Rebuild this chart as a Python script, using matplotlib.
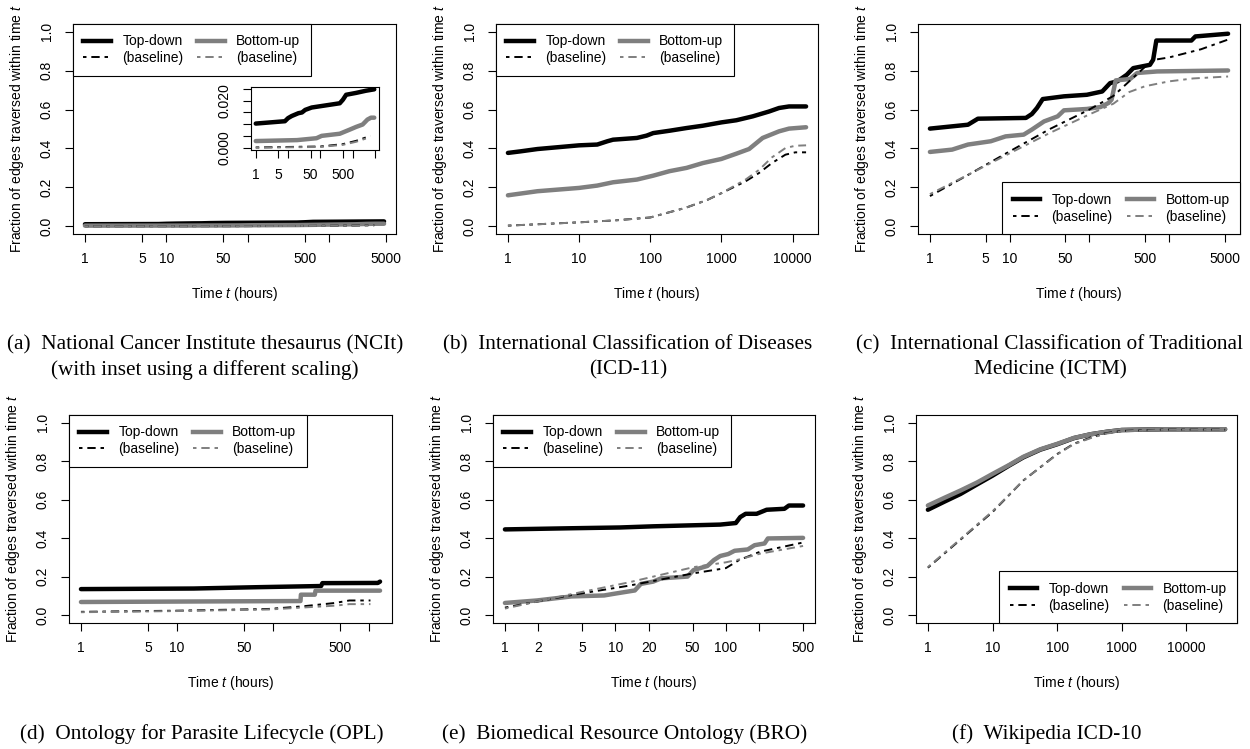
import numpy as np
import matplotlib
matplotlib.use("Agg")
import matplotlib.pyplot as plt
from matplotlib.lines import Line2D
from matplotlib.ticker import NullLocator
from matplotlib.transforms import Bbox, TransformedBbox

plt.rcParams['font.family'] = ['Liberation Sans', 'DejaVu Sans']
plt.rcParams['mathtext.fontset'] = 'custom'
plt.rcParams['mathtext.it'] = 'Liberation Sans:italic'
plt.rcParams['mathtext.rm'] = 'Liberation Sans'
plt.rcParams['lines.scale_dashes'] = False

# ---------------- data ----------------
# (a) NCIt
a_td_x = [1, 8, 10, 13, 21, 27, 34, 54, 400, 500, 630, 1290, 2570, 4677]
a_td_y = [0.0103, 0.0113, 0.0126, 0.0135, 0.0147, 0.0150, 0.0161, 0.0171, 0.0189, 0.0204, 0.0225, 0.0233, 0.0242, 0.0248]
a_bu_x = [1, 19, 76, 110, 400, 800, 1290, 2040, 2880, 3700, 4677]
a_bu_y = [0.0029, 0.0033, 0.0041, 0.0051, 0.0060, 0.0077, 0.0089, 0.0099, 0.0120, 0.0128, 0.0128]
a_tdb_x = [1, 100, 500, 1290, 3550]
a_tdb_y = [0.0002, 0.0006, 0.0016, 0.0030, 0.0051]
a_bub_x = [1, 100, 500, 1290, 3550]
a_bub_y = [0.0001, 0.0004, 0.0013, 0.0026, 0.0046]

# (b) ICD-11
b_td_x = [1, 1.5, 2.6, 10, 18, 25, 30, 65, 89, 110, 186, 324, 550, 1000, 1622, 2754, 4677, 6457, 8913, 15488]
b_td_y = [0.377, 0.385, 0.397, 0.416, 0.420, 0.437, 0.445, 0.454, 0.466, 0.479, 0.491, 0.505, 0.517, 0.534, 0.545, 0.565, 0.590, 0.608, 0.616, 0.616]
b_bu_x = [1, 2.6, 10, 18, 30, 65, 110, 186, 324, 550, 1000, 1622, 2450, 3800, 6457, 8913, 15488]
b_bu_y = [0.159, 0.180, 0.197, 0.209, 0.226, 0.240, 0.260, 0.283, 0.300, 0.325, 0.346, 0.373, 0.397, 0.454, 0.488, 0.502, 0.509]
b_tdb_x = [1, 10, 32, 100, 316, 631, 1000, 2188, 3388, 5129, 7943, 10965, 15488]
b_tdb_y = [0.003, 0.020, 0.030, 0.045, 0.095, 0.135, 0.170, 0.231, 0.274, 0.325, 0.368, 0.380, 0.380]
b_bub_x = [1, 10, 32, 100, 316, 631, 1000, 2188, 3388, 5129, 7943, 10965, 15488]
b_bub_y = [0.003, 0.020, 0.030, 0.045, 0.095, 0.135, 0.170, 0.240, 0.290, 0.354, 0.402, 0.414, 0.416]

# (c) ICTM
c_td_x = [1, 3, 4, 16, 19, 22, 26, 48, 93, 145, 182, 224, 295, 355, 575, 631, 692, 1905, 2138, 5495]
c_td_y = [0.502, 0.522, 0.553, 0.557, 0.577, 0.608, 0.654, 0.668, 0.676, 0.693, 0.736, 0.745, 0.779, 0.813, 0.830, 0.856, 0.955, 0.955, 0.976, 0.990]
c_bu_x = [1, 1.9, 3, 5.8, 8.9, 15, 19, 27, 40, 48, 93, 138, 174, 190, 214, 324, 398, 708, 5495]
c_bu_y = [0.382, 0.394, 0.420, 0.437, 0.462, 0.471, 0.497, 0.539, 0.565, 0.596, 0.603, 0.613, 0.634, 0.651, 0.750, 0.757, 0.788, 0.796, 0.801]
c_tdb_x = [1, 3.2, 10, 32, 100, 200, 316, 500, 631, 1000, 2512, 5495]
c_tdb_y = [0.155, 0.270, 0.385, 0.500, 0.600, 0.670, 0.745, 0.820, 0.855, 0.868, 0.910, 0.960]
c_bub_x = [1, 3.2, 10, 32, 100, 200, 316, 500, 1000, 2000, 5495]
c_bub_y = [0.165, 0.270, 0.375, 0.480, 0.575, 0.630, 0.690, 0.720, 0.745, 0.760, 0.770]

# (d) OPL
d_td_x = [1, 15, 70, 320, 330, 1250, 1318]
d_td_y = [0.136, 0.139, 0.146, 0.152, 0.167, 0.168, 0.175]
d_bu_x = [1, 20, 195, 197, 275, 280, 1318]
d_bu_y = [0.069, 0.072, 0.074, 0.107, 0.107, 0.128, 0.128]
d_tdb_x = [1, 10, 91, 200, 447, 631, 1047]
d_tdb_y = [0.018, 0.024, 0.033, 0.046, 0.064, 0.077, 0.077]
d_bub_x = [1, 10, 91, 200, 447, 631, 1047]
d_bub_y = [0.016, 0.022, 0.030, 0.040, 0.050, 0.058, 0.058]

# (e) BRO
e_td_x = [1, 4, 11, 22, 89, 123, 135, 151, 190, 234, 339, 372, 500]
e_td_y = [0.446, 0.452, 0.456, 0.462, 0.471, 0.479, 0.510, 0.527, 0.527, 0.548, 0.553, 0.570, 0.570]
e_bu_x = [1, 1.95, 4, 7.9, 9.8, 15, 17, 22, 26, 45, 51, 68, 78, 89, 105, 120, 158, 182, 224, 240, 500]
e_bu_y = [0.064, 0.077, 0.098, 0.103, 0.112, 0.129, 0.163, 0.175, 0.192, 0.201, 0.235, 0.256, 0.287, 0.308, 0.318, 0.335, 0.342, 0.364, 0.373, 0.399, 0.402]
e_tdb_x = [1, 4, 13, 51, 100, 132, 204, 500]
e_tdb_y = [0.040, 0.105, 0.153, 0.218, 0.245, 0.287, 0.330, 0.378]
e_bub_x = [1, 4, 13, 51, 100, 132, 204, 500]
e_bub_y = [0.035, 0.110, 0.170, 0.250, 0.275, 0.290, 0.320, 0.360]

# (f) Wikipedia ICD-10
f_td_x = [1, 1.8, 3.2, 5.8, 10, 18, 30, 55, 100, 182, 331, 590, 1000, 4467, 39811]
f_td_y = [0.548, 0.590, 0.630, 0.680, 0.725, 0.777, 0.820, 0.860, 0.888, 0.920, 0.940, 0.953, 0.962, 0.966, 0.966]
f_bu_x = [1, 1.8, 3.2, 5.8, 10, 18, 30, 55, 100, 182, 331, 590, 1000, 4467, 39811]
f_bu_y = [0.570, 0.610, 0.648, 0.690, 0.734, 0.780, 0.823, 0.862, 0.890, 0.921, 0.940, 0.953, 0.962, 0.966, 0.966]
f_tdb_x = [1, 10, 30, 100, 180, 331, 560, 1000, 4467, 39811]
f_tdb_y = [0.247, 0.536, 0.700, 0.837, 0.890, 0.923, 0.945, 0.957, 0.964, 0.964]
f_bub_x = [1, 10, 30, 100, 180, 331, 560, 1000, 4467, 39811]
f_bub_y = [0.250, 0.540, 0.700, 0.835, 0.888, 0.920, 0.943, 0.955, 0.963, 0.963]

# ticks
yticks_main = [0.0, 0.2, 0.4, 0.6, 0.8, 1.0]
ylabels_main = ["0.0", "0.2", "0.4", "0.6", "0.8", "1.0"]
xt_a = [1, 5, 10, 50, 100, 500, 1000, 5000]
xl_a = ["1", "5", "10", "50", "", "500", "", "5000"]
xt_b = [1, 10, 100, 1000, 10000]
xl_b = ["1", "10", "100", "1000", "10000"]
xt_d = [1, 5, 10, 50, 100, 500, 1000]
xl_d = ["1", "5", "10", "50", "", "500", ""]
xt_e = [1, 2, 5, 10, 20, 50, 100, 200, 500]
xl_e = ["1", "2", "5", "10", "20", "50", "100", "", "500"]
xt_in = [1, 5, 10, 50, 100, 500, 1000, 5000]
xl_in = ["1", "5", "", "50", "", "500", "", ""]
yt_in = [0.000, 0.005, 0.010, 0.015, 0.020, 0.025]
yl_in = ["0.000", "", "", "", "0.020", ""]

captions = {
    'a': ["(a)  National Cancer Institute thesaurus (NCIt)", "(with inset using a different scaling)"],
    'b': ["(b)  International Classification of Diseases", "(ICD-11)"],
    'c': ["(c)  International Classification of Traditional", "Medicine (ICTM)"],
    'd': ["(d)  Ontology for Parasite Lifecycle (OPL)"],
    'e': ["(e)  Biomedical Resource Ontology (BRO)"],
    'f': ["(f)  Wikipedia ICD-10"],
}

# ---------------- drawing ----------------
W, H = 1250, 749
fig = plt.figure(figsize=(W / 100, H / 100), dpi=100)
FS = 10
GRAY = '#7f7f7f'
DASH = (2.5, 3.5, 6, 3.5)
LW_THICK = 3.2
LW_THIN = 1.4


def px_rect(l, t, r, b):
    return [l / W, 1 - b / H, (r - l) / W, (b - t) / H]


def style_axis(ax, xt, xl, yt, yl):
    ax.set_xscale('log')
    ax.set_xticks(xt)
    ax.set_xticklabels(xl)
    ax.xaxis.set_minor_locator(NullLocator())
    ax.set_yticks(yt)
    ax.set_yticklabels(yl)
    ax.tick_params(axis='both', direction='out', length=6, width=0.8, labelsize=FS, colors='black')
    ax.tick_params(axis='x', pad=7)
    ax.tick_params(axis='y', pad=8, labelrotation=90)
    for lb in ax.get_yticklabels():
        lb.set_va('center')
    for sp in ax.spines.values():
        sp.set_linewidth(0.8)


def logxlim(ax, xs):
    lo = np.log10(min(min(x) for x in xs))
    hi = np.log10(max(max(x) for x in xs))
    pad = 0.04 * (hi - lo)
    ax.set_xlim(10 ** (lo - pad), 10 ** (hi + pad))


def draw_series(ax, td, bu, tdb, bub, lw=LW_THICK):
    ax.plot(td[0], td[1], color='black', lw=lw, solid_capstyle='round', solid_joinstyle='round')
    ax.plot(bu[0], bu[1], color=GRAY, lw=lw, solid_capstyle='round', solid_joinstyle='round')
    ax.plot(tdb[0], tdb[1], color='black', lw=LW_THIN, dashes=DASH)
    ax.plot(bub[0], bub[1], color=GRAY, lw=LW_THIN, dashes=DASH)


def add_legend(ax, loc):
    handles = [Line2D([], [], color='black', lw=LW_THICK),
               Line2D([], [], color='black', lw=LW_THIN, dashes=DASH),
               Line2D([], [], color=GRAY, lw=LW_THICK),
               Line2D([], [], color=GRAY, lw=LW_THIN, dashes=DASH)]
    labels = ['Top-down', '(baseline)', 'Bottom-up', '(baseline)']
    anchor = (0, 1) if loc == 'upper left' else (1, 0)
    leg = ax.legend(handles, labels, ncol=2, loc=loc, bbox_to_anchor=anchor,
                    borderaxespad=0, fancybox=False, framealpha=1, edgecolor='black',
                    fontsize=FS, handlelength=2.0, handletextpad=0.8, columnspacing=1.0,
                    borderpad=0.75, labelspacing=0.2)
    leg.get_frame().set_linewidth(0.8)


def add_labels(ax, rect_px, clip_top=None):
    l, t, r, b = rect_px
    ax.text(0.5, -(294 - 234) / (b - t), r"Time $\it{t}$ (hours)", transform=ax.transAxes,
            ha='center', va='center', fontsize=FS)
    yl = ax.text(-56 / (r - l), 0.5, r"Fraction of edges traversed within time $\it{t}$",
                 transform=ax.transAxes, ha='center', va='center', rotation=90, fontsize=FS)
    if clip_top is not None:
        bb = TransformedBbox(Bbox([[0, 0], [1, 1 - clip_top / H]]), fig.transFigure)
        yl.set_clip_box(bb)
        yl.set_clip_on(True)


panels = [
    ('a', (73, 24, 396, 234), (a_td_x, a_td_y), (a_bu_x, a_bu_y), (a_tdb_x, a_tdb_y), (a_bub_x, a_bub_y), xt_a, xl_a, 'upper left', None),
    ('b', (496, 24, 818, 234), (b_td_x, b_td_y), (b_bu_x, b_bu_y), (b_tdb_x, b_tdb_y), (b_bub_x, b_bub_y), xt_b, xl_b, 'upper left', None),
    ('c', (918, 24, 1240, 234), (c_td_x, c_td_y), (c_bu_x, c_bu_y), (c_tdb_x, c_tdb_y), (c_bub_x, c_bub_y), xt_a, xl_a, 'lower right', None),
    ('d', (69, 415, 392, 623), (d_td_x, d_td_y), (d_bu_x, d_bu_y), (d_tdb_x, d_tdb_y), (d_bub_x, d_bub_y), xt_d, xl_d, 'upper left', 396),
    ('e', (493, 415, 815, 623), (e_td_x, e_td_y), (e_bu_x, e_bu_y), (e_tdb_x, e_tdb_y), (e_bub_x, e_bub_y), xt_e, xl_e, 'upper left', 396),
    ('f', (916, 415, 1237, 623), (f_td_x, f_td_y), (f_bu_x, f_bu_y), (f_tdb_x, f_tdb_y), (f_bub_x, f_bub_y), xt_b, xl_b, 'lower right', 396),
]

for key, rect, td, bu, tdb, bub, xt, xl, legloc, clip in panels:
    ax = fig.add_axes(px_rect(*rect))
    draw_series(ax, td, bu, tdb, bub)
    style_axis(ax, xt, xl, yticks_main, ylabels_main)
    logxlim(ax, [td[0], bu[0], tdb[0], bub[0]])
    ax.set_ylim(-0.04, 1.04)
    add_legend(ax, legloc)
    add_labels(ax, rect, clip)

    if key == 'a':
        ins = fig.add_axes(px_rect(251, 87, 379, 150))
        ins.set_facecolor('white')
        draw_series(ins, td, bu, tdb, bub)
        style_axis(ins, xt_in, xl_in, yt_in, yl_in)
        logxlim(ins, [td[0], bu[0], tdb[0], bub[0]])
        ally = td[1] + bu[1] + tdb[1] + bub[1]
        lo, hi = min(ally), max(ally)
        pad = 0.04 * (hi - lo)
        ins.set_ylim(lo - pad, hi + pad)

# captions
cap_pos = {'a': (205, [345, 370]), 'b': (628, [345, 370]), 'c': (1050, [345, 370]),
           'd': (202, [734]), 'e': (625, [734]), 'f': (1047, [734])}
for key, lines in captions.items():
    cx, ys = cap_pos[key]
    for line, y in zip(lines, ys):
        fig.text(cx / W, 1 - y / H, line, ha='center', va='center',
                 fontsize=15.3, family='Liberation Serif')

fig.savefig('out.png', dpi=100)
